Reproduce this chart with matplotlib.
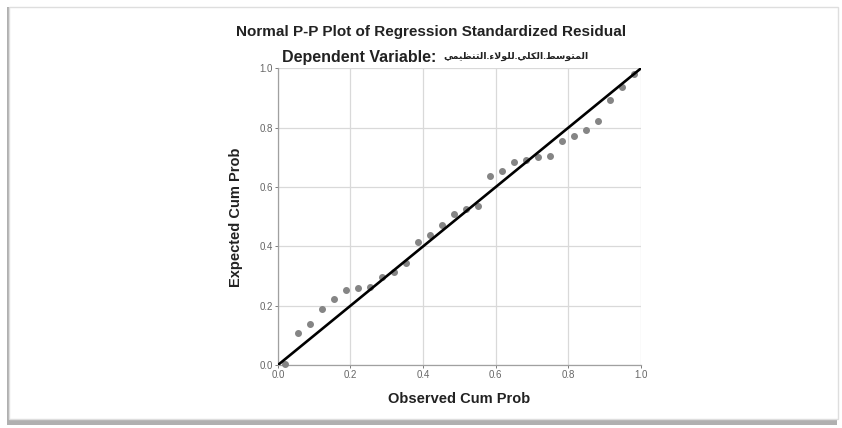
import matplotlib
matplotlib.use('Agg')
import matplotlib.pyplot as plt
from matplotlib.patches import Rectangle

# observed / expected cumulative probabilities
observed = [0.021, 0.056, 0.089, 0.122, 0.156, 0.188, 0.221, 0.254, 0.288, 0.320,
            0.354, 0.387, 0.419, 0.453, 0.485, 0.519, 0.551, 0.585, 0.618, 0.651,
            0.685, 0.717, 0.750, 0.784, 0.816, 0.849, 0.882, 0.915, 0.949, 0.982]
expected = [0.002, 0.107, 0.138, 0.188, 0.222, 0.253, 0.260, 0.264, 0.298, 0.315,
            0.345, 0.415, 0.438, 0.472, 0.508, 0.525, 0.537, 0.639, 0.655, 0.684,
            0.690, 0.701, 0.706, 0.757, 0.772, 0.793, 0.824, 0.893, 0.938, 0.981]
ticks = [0.0, 0.2, 0.4, 0.6, 0.8, 1.0]
dep_var = 'المتوسط.الكلي.للولاء.التنظيمي'

# small arabic shaper (matplotlib does no shaping): iso, fin, ini, med
FORMS = {
    'ا': ('\uFE8D', '\uFE8E', None, None),
    'ل': ('\uFEDD', '\uFEDE', '\uFEDF', '\uFEE0'),
    'م': ('\uFEE1', '\uFEE2', '\uFEE3', '\uFEE4'),
    'ت': ('\uFE95', '\uFE96', '\uFE97', '\uFE98'),
    'و': ('\uFEED', '\uFEEE', None, None),
    'س': ('\uFEB1', '\uFEB2', '\uFEB3', '\uFEB4'),
    'ط': ('\uFEC1', '\uFEC2', '\uFEC3', '\uFEC4'),
    'ك': ('\uFED9', '\uFEDA', '\uFEDB', '\uFEDC'),
    'ي': ('\uFEF1', '\uFEF2', '\uFEF3', '\uFEF4'),
    'ن': ('\uFEE5', '\uFEE6', '\uFEE7', '\uFEE8'),
    'ظ': ('\uFEC5', '\uFEC6', '\uFEC7', '\uFEC8'),
    'ء': ('\uFE80', None, None, None),
}


def dual(c):
    return c in FORMS and FORMS[c][2] is not None


def joins(c):
    return c in FORMS and FORMS[c][1] is not None


def shape(s):
    out = []
    i = 0
    while i < len(s):
        c = s[i]
        prev = s[i - 1] if i > 0 else ''
        nxt = s[i + 1] if i + 1 < len(s) else ''
        if c not in FORMS:
            out.append(c)
            i += 1
            continue
        from_prev = dual(prev) and joins(c)
        # lam-alef ligature
        if c == 'ل' and nxt == 'ا':
            out.append('\uFEFC' if from_prev else '\uFEFB')
            i += 2
            continue
        to_next = dual(c) and joins(nxt)
        iso, fin, ini, med = FORMS[c]
        if from_prev and to_next:
            out.append(med)
        elif from_prev:
            out.append(fin)
        elif to_next:
            out.append(ini)
        else:
            out.append(iso)
        i += 1
    return ''.join(reversed(out))


plt.rcParams['font.family'] = ['Liberation Sans', 'DejaVu Sans']

fig = plt.figure(figsize=(8.42, 4.28), dpi=100)
fig.patch.set_facecolor('white')

# framed panel with shadow (kept behind the axes)
fig.patches.append(Rectangle((0.008, 0.008), 0.986, 0.976, transform=fig.transFigure,
                             facecolor='#b0b0b0', edgecolor='none', zorder=-2))
fig.patches.append(Rectangle((0.011, 0.020), 0.984, 0.964, transform=fig.transFigure,
                             facecolor='white', edgecolor='#dedede', lw=1.0, zorder=-1))

ax = fig.add_axes([0.330, 0.147, 0.431, 0.693])
ax.set_facecolor('white')
ax.grid(True, color='#d9d9d9', lw=0.9)
ax.set_axisbelow(True)
ax.scatter(observed, expected, s=16, color='#858585', zorder=3, clip_on=False)
ax.plot([0, 1], [0, 1], color='black', lw=1.9, zorder=4)

ax.set_xlim(0, 1)
ax.set_ylim(0, 1)
ax.set_xticks(ticks)
ax.set_yticks(ticks)
ax.set_xticklabels(['%.1f' % t for t in ticks])
ax.set_yticklabels(['%.1f' % t for t in ticks])
ax.tick_params(labelsize=7, colors='#666666', length=2, width=0.6, pad=1.5)
for side in ['top', 'right']:
    ax.spines[side].set_visible(False)
for side in ['left', 'bottom']:
    ax.spines[side].set_color('#a0a0a0')
    ax.spines[side].set_linewidth(0.9)

ax.set_xlabel('Observed Cum Prob', fontsize=10.5, fontweight='bold', color='#222222', labelpad=9)
ax.set_ylabel('Expected Cum Prob', fontsize=10.5, fontweight='bold', color='#222222', labelpad=12)

fig.text(0.512, 0.925, 'Normal P-P Plot of Regression Standardized Residual',
         ha='center', va='center', fontsize=11, fontweight='bold', color='#222222')
fig.text(0.524, 0.866, 'Dependent Variable: ',
         ha='right', va='center', fontsize=11.5, fontweight='bold', color='#222222')
fig.text(0.527, 0.868, shape(dep_var),
         ha='left', va='center', fontsize=6.8, fontweight='bold', color='#222222')

plt.savefig('out.png', dpi=100)
